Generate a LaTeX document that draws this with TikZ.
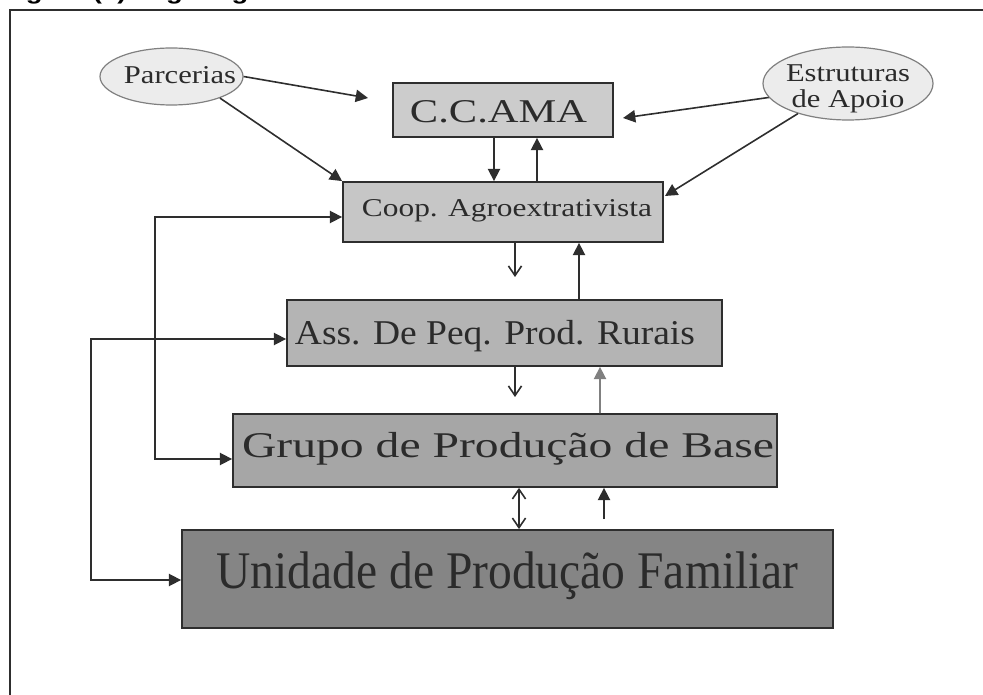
\documentclass[tikz,border=0pt]{standalone}
\usepackage{fontspec}
\setmainfont{Liberation Serif}
\newfontfamily\capfont{Liberation Sans}
\usepackage{graphicx}
\usetikzlibrary{arrows.meta,shapes.geometric}

\newdimen\pxu \pxu=0.02cm
\definecolor{inkgray}{HTML}{2E2E2E}
\definecolor{textgray}{HTML}{2B2B2B}
\definecolor{bubblefill}{HTML}{ECECEC}
\definecolor{ccamafill}{HTML}{CCCCCC}
\definecolor{coopfill}{HTML}{C6C6C6}
\definecolor{assfill}{HTML}{B4B4B4}
\definecolor{grupofill}{HTML}{A6A6A6}
\definecolor{unifill}{HTML}{858585}
% font size in pt, printed width in px, text
\newcommand\wtext[3]{\resizebox{#2\pxu}{\height}{\fontsize{#1}{#1}\selectfont #3}}

\begin{document}
\begin{tikzpicture}[x=0.02cm, y=-0.02cm,
  tier/.style={draw=inkgray, line width=1.8\pxu, inner sep=0pt, text=textgray},
  bubble/.style={ellipse, draw=gray, line width=1.2\pxu, fill=bubblefill, inner sep=0pt, text=textgray},
  link/.style={draw=inkgray, line width=1.6\pxu},
  headfull/.style={-{Triangle[length=7pt,width=7pt]}},
  headopen/.style={-{Straight Barb[length=5.5pt,width=7.5pt]}},
  headtwin/.style={{Straight Barb[length=5.5pt,width=7.5pt]}-{Straight Barb[length=5.5pt,width=7.5pt]}},
  headloop/.style={{Triangle[length=7pt,width=7pt]}-{Triangle[length=7pt,width=7pt]}}]
\useasboundingbox (0,0) rectangle (983,695);

% caption, cut by the page edge
\begin{scope}
\clip (0,0) rectangle (983,695);
\node[anchor=base west, inner sep=0pt] (figcap) at (1,0) {\capfont\bfseries\scalebox{1.25}[1]{\fontsize{12.5}{12.5}\selectfont Figura (x) Organograma}};
\end{scope}
\draw[draw=inkgray, line width=2.5\pxu] (10,695) -- (10,10) -- (983,10);

\node[bubble, minimum width=143\pxu, minimum height=57\pxu, text height=17\pxu, text depth=3\pxu] (parc) at (171.5,76.5) {\makebox[0pt]{\hspace*{17\pxu}\wtext{14.6}{112}{Parcerias}}};
\node[bubble, minimum width=170\pxu, minimum height=73\pxu, text height=17\pxu, text depth=20\pxu] (estr) at (848,83.5) {\makebox[0pt]{\wtext{14.6}{124}{\begin{tabular}[t]{@{}c@{}}Estruturas\\de Apoio\end{tabular}}}};

\node[tier, fill=ccamafill, minimum width=220\pxu, minimum height=54\pxu, text height=26\pxu, text depth=0pt] (ccama) at (503,110) {\wtext{18.9}{177}{C.C.AMA}\hspace*{9\pxu}};
\node[tier, fill=coopfill, minimum width=320\pxu, minimum height=60\pxu, text height=17\pxu, text depth=7\pxu] (coop) at (503,212) {\hspace*{8\pxu}\wtext{14.6}{290}{Coop. Agroextrativista}};
\node[tier, fill=assfill, minimum width=435\pxu, minimum height=66\pxu, text height=24\pxu, text depth=0pt] (ass) at (504.5,333) {\wtext{19.8}{400}{Ass. De Peq. Prod. Rurais}\hspace*{19\pxu}};
\node[tier, fill=grupofill, minimum width=544\pxu, minimum height=73\pxu, text height=24\pxu, text depth=9\pxu] (grupo) at (505,450.5) {\hspace*{6\pxu}\wtext{20.6}{532}{Grupo de Produção de Base}};
\node[tier, fill=unifill, minimum width=651\pxu, minimum height=98\pxu, text height=35\pxu, text depth=16\pxu] (uni) at (507.5,579) {\wtext{30.1}{582}{Unidade de Produção Familiar}};

\coordinate (toCCleft) at (368,98);
\coordinate (toCCright) at (623,118);
\coordinate (toCoopR) at (665,196);
\coordinate (toAss) at (515,277);
\coordinate (toGrupo) at (515,397);
\coordinate (fromUni) at (604,519);
\coordinate (loopIn) at (155,330);
\coordinate (loopOut) at (91,450);

\draw[link, headfull] (parc.east) -- (toCCleft);
\draw[link, headfull] (parc.-24) -- (coop.north west);
\draw[link, headfull] (estr.190) -- (toCCright);
\draw[link, headfull] (estr.211) -- (toCoopR);
\draw[link, headfull] ([xshift=-9\pxu]ccama.south) -- ([xshift=-9\pxu]coop.north);
\draw[link, headfull] ([xshift=34\pxu]coop.north) -- ([xshift=34\pxu]ccama.south);
\draw[link, headopen] ([xshift=12\pxu]coop.south) -- (toAss);
\draw[link, headfull] ([xshift=74.5\pxu]ass.north) -- ([xshift=76\pxu]coop.south);
\draw[link, headopen] ([xshift=10.5\pxu]ass.south) -- (toGrupo);
\draw[link, draw=gray, headfull] ([xshift=95\pxu]grupo.north) -- ([xshift=95.5\pxu]ass.south);
\draw[link, headtwin] ([xshift=14\pxu]grupo.south) -- ([xshift=11.5\pxu]uni.north);
\draw[link, headfull] (fromUni) -- (fromUni |- grupo.south);

\draw[link, headloop] ([yshift=-5\pxu]coop.west) -| (loopIn) |- ([yshift=-8.5\pxu]grupo.west);
\draw[link, headloop] ([yshift=-6\pxu]ass.west) -| (loopOut) |- ([yshift=-1\pxu]uni.west);
\end{tikzpicture}
\end{document}
